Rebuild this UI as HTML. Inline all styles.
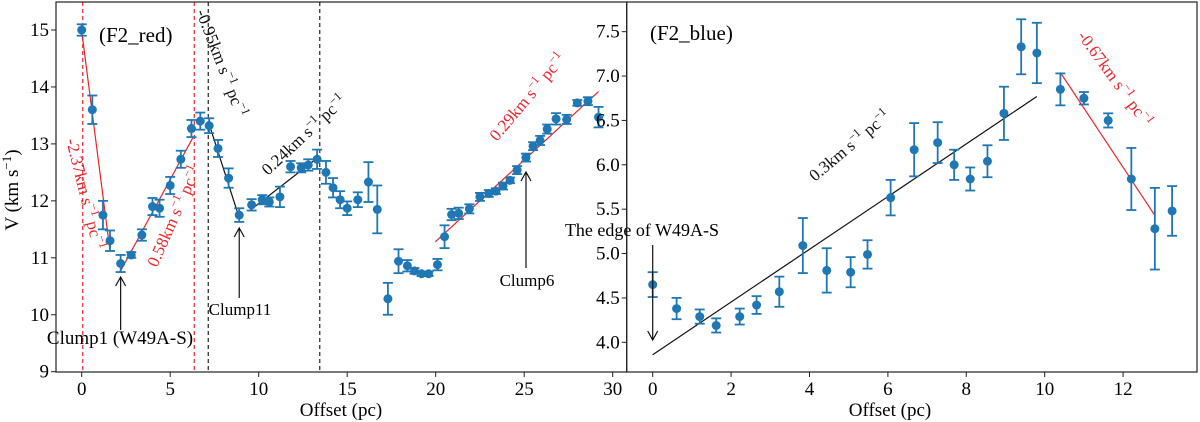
<!DOCTYPE html>
<html><head><meta charset="utf-8">
<style>
body{margin:0;background:#fff;}
svg{display:block;font-family:"Liberation Serif","DejaVu Serif",serif;}
</style></head>
<body>
<svg id="fig" width="1200" height="422" viewBox="0 0 1200 422" xmlns="http://www.w3.org/2000/svg">
<g id="L"></g>
<g id="R"></g>
</svg>
<script>
// ---- F2_red data ----
const redX = [0,0.6,1.2,1.6,2.2,2.8,3.4,4.0,4.4,5.0,5.6,6.2,6.7,7.2,7.7,8.3,8.9,9.6,10.2,10.6,11.2,11.8,12.4,12.8,13.3,13.8,14.2,14.6,15.0,15.6,16.2,16.7,17.3,17.9,18.4,18.8,19.2,19.6,20.1,20.5,20.9,21.3,21.9,22.5,23.0,23.4,23.8,24.2,24.6,25.1,25.5,25.9,26.3,26.8,27.4,28.0,28.6,29.2];
const redV = [15.0,13.6,11.75,11.3,10.9,11.05,11.4,11.9,11.87,12.27,12.73,13.27,13.4,13.32,12.92,12.4,11.75,11.93,12.02,11.98,12.07,12.6,12.58,12.63,12.73,12.5,12.23,12.02,11.87,12.02,12.33,11.85,10.28,10.94,10.86,10.77,10.72,10.72,10.88,11.37,11.76,11.78,11.86,12.07,12.13,12.17,12.26,12.36,12.54,12.76,12.96,13.06,13.26,13.44,13.43,13.72,13.75,13.47];
const redErr = [0.1,0.25,0.25,0.18,0.15,0.05,0.1,0.15,0.15,0.15,0.15,0.15,0.15,0.13,0.15,0.17,0.12,0.1,0.08,0.08,0.18,0.1,0.08,0.1,0.17,0.2,0.17,0.15,0.12,0.13,0.35,0.42,0.28,0.21,0.1,0.05,0.04,0.04,0.1,0.2,0.1,0.1,0.08,0.07,0.06,0.05,0.06,0.05,0.07,0.07,0.07,0.08,0.08,0.1,0.08,0.05,0.07,0.18];
const redXTicks = [0,5,10,15,20,25,30];
const redYTicks = [9,10,11,12,13,14,15];
const redFitsRed = [[0,14.98,1.6,11.12],[2.2,10.77,6.3,13.12],[19.98,11.28,29.2,13.92]];
const redFitsBlack = [[7.25,13.3,8.85,11.75],[9.5,11.83,13.3,12.75]];
const redVlinesRed = [0.06,6.36];
const redVlinesBlack = [7.15,13.45];
// ---- F2_blue data ----
const blueX = [0,0.61,1.2,1.62,2.22,2.65,3.23,3.83,4.44,5.05,5.48,6.07,6.67,7.27,7.69,8.1,8.54,8.96,9.4,9.8,10.4,11.0,11.62,12.21,12.81,13.25];
const blueV = [4.65,4.38,4.29,4.19,4.29,4.42,4.57,5.09,4.81,4.79,4.99,5.63,6.17,6.25,6.0,5.84,6.04,6.58,7.33,7.26,6.85,6.75,6.5,5.84,5.28,5.48];
const blueErr = [0.14,0.12,0.08,0.08,0.09,0.1,0.17,0.31,0.25,0.17,0.16,0.2,0.3,0.23,0.17,0.13,0.18,0.3,0.31,0.34,0.18,0.07,0.08,0.35,0.46,0.28];
const blueXTicks = [0,2,4,6,8,10,12];
const blueYTicks = [4.0,4.5,5.0,5.5,6.0,6.5,7.0,7.5];
const blueFitsBlack = [[0,3.86,9.8,6.77]];
const blueFitsRed = [[10.4,7.04,12.81,5.43]];

const NS = "http://www.w3.org/2000/svg";
function mk(parent, tag, attrs, text){
  const e = document.createElementNS(NS, tag);
  for (const k in attrs) e.setAttribute(k, attrs[k]);
  if (text !== undefined) e.textContent = text;
  parent.appendChild(e);
  return e;
}
const BLUE = "#1f77b4";
const TOP = 2, BOT = 372;

const lx = x => 81.7 + 17.7 * x;
const ly = v => 371.7 - (v - 9) * 56.95;
const rx = x => 652.7 + 39.2 * x;
const ry = v => 342.3 - (v - 4) * 88.75;

function drawPanel(g, x0, x1, sx, sy, X, V, E, xt, yt, fmt){
  const f = mk(g, 'rect', {x:x0, y:TOP, width:x1-x0, height:BOT-TOP, fill:'none', stroke:'#222', 'stroke-width':1.2});
  
  
  xt.forEach(t => {
    const x = sx(t);
    mk(g, 'line', {x1:x, x2:x, y1:BOT, y2:BOT+5, stroke:'#222'});
    const tl = mk(g, 'text', {x:x, y:395, 'font-size':19, 'text-anchor':'middle'}, String(t));
    
    
  });
  yt.forEach(t => {
    const y = sy(t);
    mk(g, 'line', {x1:x0-5, x2:x0, y1:y, y2:y, stroke:'#222'});
    const tl = mk(g, 'text', {x:x0-7, y:y+6, 'font-size':19, 'text-anchor':'end'}, fmt(t));
    
    
  });
  X.forEach((x, i) => {
    const px = sx(x), yt2 = sy(V[i] + E[i]), yb = sy(V[i] - E[i]);
    const eg = mk(g, 'g', {stroke:BLUE, 'stroke-width':1.8});
    
    
    mk(eg, 'line', {x1:px, x2:px, y1:yt2, y2:yb});
    mk(eg, 'line', {x1:px-5, x2:px+5, y1:yt2, y2:yt2});
    mk(eg, 'line', {x1:px-5, x2:px+5, y1:yb, y2:yb});
    const c = mk(g, 'circle', {cx:px, cy:sy(V[i]), r:4.5, fill:BLUE});
    
    
  });
}
function fit(g, arr, sx, sy, col){
  arr.forEach(a => {
    const l = mk(g, 'line', {x1:sx(a[0]), y1:sy(a[1]), x2:sx(a[2]), y2:sy(a[3]), stroke:col, 'stroke-width':1.2});
    
    
  });
}
function rtext(g, x, y, ang, col, txt, name){
  const t = mk(g, 'text', {x:x, y:y, 'font-size':17, fill:col, transform:`rotate(${ang} ${x} ${y})`});
  
  
  t.innerHTML = txt;
  return t;
}
const sup = '<tspan dy="-7" font-size="12">−1</tspan><tspan dy="7">  </tspan>';
const unit = 'km s' + sup + ' pc' + '<tspan dy="-7" font-size="12">−1</tspan>';

// ---- left panel ----
const L = document.getElementById('L');
redVlinesRed.forEach(v => {
  const l = mk(L, 'line', {x1:lx(v), x2:lx(v), y1:TOP, y2:BOT, stroke:'#e8262a', 'stroke-dasharray':'4,3', 'stroke-width':1.2});
  
  
});
redVlinesBlack.forEach(v => {
  const l = mk(L, 'line', {x1:lx(v), x2:lx(v), y1:TOP, y2:BOT, stroke:'#222', 'stroke-dasharray':'4,3', 'stroke-width':1.2});
  
  
});
fit(L, redFitsRed, lx, ly, '#e8262a');
fit(L, redFitsBlack, lx, ly, '#111');
drawPanel(L, 56, 626.7, lx, ly, redX, redV, redErr, redXTicks, redYTicks, t => String(t));
let t = mk(L, 'text', {x:99, y:42, 'font-size':21}, '(F2_red)');
 
rtext(L, 66, 140, 76, '#e8262a', '-2.37' + unit, 'slope-label-1');
rtext(L, 157, 268, -66, '#e8262a', '0.58' + unit, 'slope-label-2');
rtext(L, 196, 12, 69, '#111', '-0.95' + unit, 'slope-label-3');
rtext(L, 268, 176, -43, '#111', '0.24' + unit, 'slope-label-4');
rtext(L, 497, 142, -50, '#e8262a', '0.29' + unit, 'slope-label-5');
function arrow(g, x, y1, y2, name){
  const a = mk(g, 'g', {stroke:'#111', fill:'none', 'stroke-width':1.2});
  
  
  mk(a, 'line', {x1:x, x2:x, y1:y1, y2:y2});
  const d = y2 < y1 ? -1 : 1;
  mk(a, 'polyline', {points:`${x-5},${y2-d*9} ${x},${y2} ${x+5},${y2-d*9}`});
}
arrow(L, lx(2.2), 330, 277, 'clump1-arrow');
arrow(L, lx(8.9), 298, 228, 'clump11-arrow');
arrow(L, 526, 268, 172, 'clump6-arrow');
t = mk(L, 'text', {x:120, y:344, 'font-size':19, 'text-anchor':'middle'}, 'Clump1 (W49A-S)');
 
t = mk(L, 'text', {x:240, y:315, 'font-size':17, 'text-anchor':'middle'}, 'Clump11');
 
t = mk(L, 'text', {x:527, y:286, 'font-size':17, 'text-anchor':'middle'}, 'Clump6');
 
t = mk(L, 'text', {x:341, y:416, 'font-size':19, 'text-anchor':'middle'}, 'Offset (pc)');
 
t = mk(L, 'text', {x:18, y:190, 'font-size':19, 'text-anchor':'middle', transform:'rotate(-90 18 190)'});
t.innerHTML = 'V (km s<tspan dy="-7" font-size="13">−1</tspan><tspan dy="7">)</tspan>';
 

// ---- right panel ----
const R = document.getElementById('R');
fit(R, blueFitsBlack, rx, ry, '#111');
fit(R, blueFitsRed, rx, ry, '#e8262a');
drawPanel(R, 626.7, 1197, rx, ry, blueX, blueV, blueErr, blueXTicks, blueYTicks, t => t.toFixed(1));
t = mk(R, 'text', {x:650, y:40, 'font-size':21}, '(F2_blue)');
 
rtext(R, 815, 182, -40, '#111', '0.3' + unit, 'slope-label-6');
rtext(R, 1077, 36, 54, '#e8262a', '-0.67' + unit, 'slope-label-7');
t = mk(R, 'text', {x:642, y:236, 'font-size':18, 'text-anchor':'middle'}, 'The edge of W49A-S');
 
arrow(R, rx(0), 245, 340, 'edge-arrow');
t = mk(R, 'text', {x:890, y:416, 'font-size':19, 'text-anchor':'middle'}, 'Offset (pc)');
 
</script>
</body></html>
